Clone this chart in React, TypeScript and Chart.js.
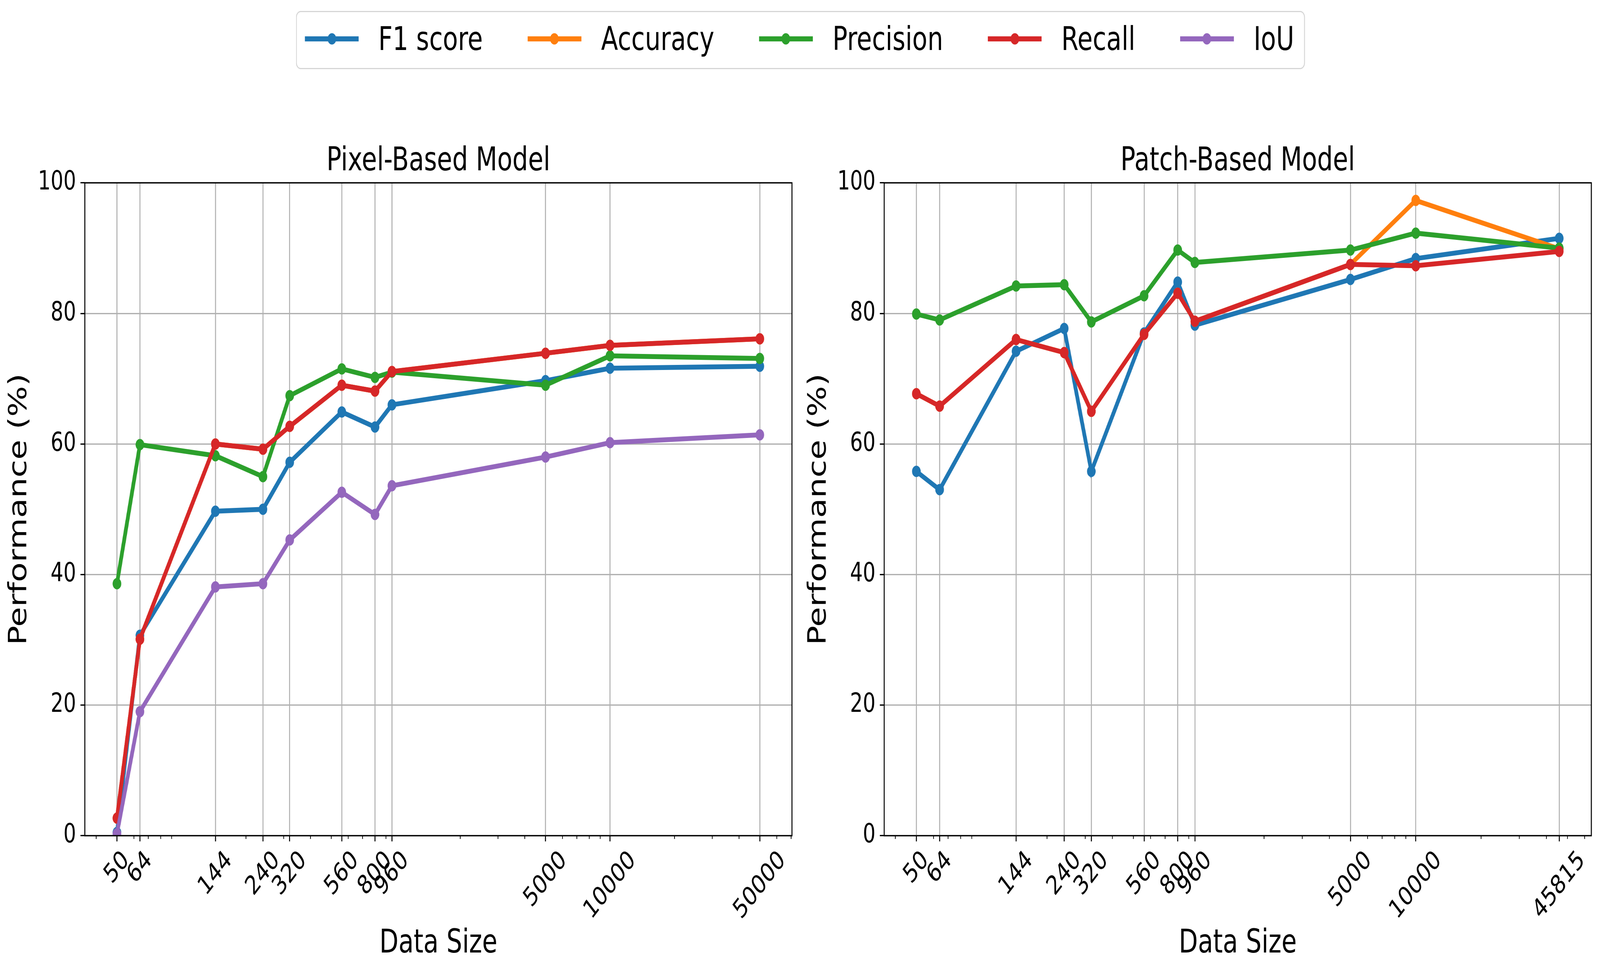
import React, { useEffect, useRef } from 'react';
import { Chart, registerables } from 'chart.js';

Chart.register(...registerables);

const FONT = 'DejaVu Sans';

// ---------------- data ----------------
const seriesNames = ['F1 score', 'Accuracy', 'Precision', 'Recall', 'IoU'];
const seriesColors = ['#1f77b4', '#ff7f0e', '#2ca02c', '#d62728', '#9467bd'];
const yTicks = [0, 20, 40, 60, 80, 100];

const pixelSizes = [50, 64, 144, 240, 320, 560, 800, 960, 5000, 10000, 50000];
const pixelF1 = [0.5, 30.7, 49.7, 50.0, 57.2, 64.9, 62.6, 66.0, 69.7, 71.6, 71.9];
const pixelAccuracy = [2.7, 30.1, 60.0, 59.2, 62.7, 69.0, 68.1, 71.1, 73.9, 75.1, 76.1];
const pixelPrecision = [38.6, 59.9, 58.2, 55.0, 67.4, 71.5, 70.2, 71.0, 69.0, 73.5, 73.1];
const pixelRecall = [2.7, 30.1, 60.0, 59.2, 62.7, 69.0, 68.1, 71.1, 73.9, 75.1, 76.1];
const pixelIoU = [0.3, 19.0, 38.1, 38.6, 45.3, 52.6, 49.2, 53.6, 58.0, 60.2, 61.4];

const patchSizes = [50, 64, 144, 240, 320, 560, 800, 960, 5000, 10000, 45815];
const patchF1 = [55.8, 53.0, 74.2, 77.7, 55.8, 77.0, 84.8, 78.2, 85.2, 88.4, 91.5];
const patchAccuracy = [67.7, 65.8, 76.0, 74.0, 65.0, 76.8, 83.1, 78.8, 87.5, 97.3, 89.9];
const patchPrecision = [79.9, 79.0, 84.2, 84.4, 78.7, 82.7, 89.7, 87.8, 89.7, 92.3, 90.0];
const patchRecall = [67.7, 65.8, 76.0, 74.0, 65.0, 76.8, 83.1, 78.8, 87.5, 87.3, 89.5];
const patchIoU: (number | null)[] = [null, null, null, null, null, null, null, null, null, null, null];

// ---------------- layout constants ----------------
const PAGE_W = 5358;
const PAGE_H = 2493;
const CANVAS_W = 2679;
const CANVAS_H = 2493;
const TICK_FONT = 67;
const LABEL_FONT = 83;
const TICK_LEN = 14.6;
const TICK_PAD = 14.6;
const LINE_W = 3.33;
const GRID_COLOR = '#b0b0b0';

function makeDecorPlugin(sizes: number[]) {
  return {
    id: 'decor' + sizes.join('_'),
    afterDraw(chart: any) {
      const { ctx, chartArea } = chart;
      const xs = chart.scales.x;
      ctx.save();
      // minor ticks (log scale)
      ctx.strokeStyle = '#000';
      ctx.lineWidth = 2.5;
      const lo = Math.floor(Math.log10(xs.min));
      const hi = Math.ceil(Math.log10(xs.max));
      for (let e = lo; e <= hi; e++) {
        for (let k = 2; k <= 9; k++) {
          const v = k * Math.pow(10, e);
          if (v < xs.min || v > xs.max || sizes.indexOf(v) >= 0) continue;
          const px = xs.getPixelForValue(v);
          ctx.beginPath();
          ctx.moveTo(px, chartArea.bottom);
          ctx.lineTo(px, chartArea.bottom + 8.3);
          ctx.stroke();
        }
      }
      // frame (spines)
      ctx.lineWidth = LINE_W;
      ctx.strokeStyle = '#000';
      ctx.strokeRect(chartArea.left, chartArea.top, chartArea.right - chartArea.left, chartArea.bottom - chartArea.top);
      // rotated x tick labels, centered on tick
      ctx.fillStyle = '#000';
      ctx.font = `${TICK_FONT}px "${FONT}"`;
      ctx.textAlign = 'left';
      ctx.textBaseline = 'alphabetic';
      const top = chartArea.bottom + TICK_LEN + TICK_PAD;
      const h = 0.968 * TICK_FONT;
      for (const t of xs.ticks) {
        const label = String(t.value);
        const w = ctx.measureText(label).width;
        const px = xs.getPixelForValue(t.value);
        const cy = top + ((w + h) * Math.SQRT1_2) / 2;
        ctx.save();
        ctx.translate(px, cy);
        ctx.rotate(-Math.PI / 4);
        ctx.fillText(label, -w / 2, 0.276 * TICK_FONT);
        ctx.restore();
      }
      ctx.restore();
    },
  };
}

type PanelProps = {
  title: string;
  sizes: number[];
  values: (number | null)[][];
  left: number;
};

function Panel({ title, sizes, values, left }: PanelProps) {
  const ref = useRef<HTMLCanvasElement>(null);
  useEffect(() => {
    const lmin = Math.log10(Math.min(...sizes));
    const lmax = Math.log10(Math.max(...sizes));
    const m = (lmax - lmin) * 0.05;
    const xmin = Math.pow(10, lmin - m);
    const xmax = Math.pow(10, lmax + m);

    const datasets = seriesNames.map((name, si) => ({
      label: name,
      data: sizes.map((x, i) => ({ x, y: values[si][i] })),
      borderColor: seriesColors[si],
      backgroundColor: seriesColors[si],
      borderWidth: 12.5,
      pointRadius: 12.5,
      pointBorderWidth: 4,
      pointHoverRadius: 12.5,
      pointBorderColor: seriesColors[si],
      pointBackgroundColor: seriesColors[si],
      tension: 0,
      fill: false,
      clip: 0,
      order: seriesNames.length - si,
      xAxisID: 'x',
      yAxisID: 'y',
    }));

    const chart = new Chart(ref.current as HTMLCanvasElement, {
      type: 'line',
      data: { datasets } as any,
      options: {
        animation: false,
        responsive: false,
        devicePixelRatio: 1,
        events: [],
        layout: { padding: { top: 372.5, left: 24.5, right: 27, bottom: 35.5 } },
        plugins: {
          legend: { display: false },
          tooltip: { enabled: false },
          title: { display: false },
        },
        scales: {
          x: {
            type: 'logarithmic',
            position: 'bottom',
            min: xmin,
            max: xmax,
            bounds: 'data',
            afterBuildTicks: (s: any) => {
              s.ticks = sizes.map((v) => ({ value: v }));
            },
            ticks: { display: false },
            grid: {
              color: GRID_COLOR,
              lineWidth: LINE_W,
              drawTicks: true,
              tickLength: TICK_LEN,
              tickColor: '#000',
              tickWidth: LINE_W,
            },
            border: { display: false },
            title: {
              display: true,
              text: 'Data Size',
              color: '#000',
              font: { family: FONT, size: LABEL_FONT, lineHeight: 1 },
              padding: 0,
            },
            afterFit: (s: any) => {
              s.height = 318.5;
            },
          },
          x2: {
            type: 'linear',
            position: 'top',
            display: true,
            grid: { display: false },
            border: { display: false },
            ticks: { display: false },
            title: {
              display: true,
              text: title,
              color: '#000',
              font: { family: FONT, size: LABEL_FONT, lineHeight: 1 },
              padding: 0,
            },
            afterFit: (s: any) => {
              s.height = 95.5;
            },
          },
          y: {
            type: 'linear',
            position: 'left',
            min: yTicks[0],
            max: yTicks[yTicks.length - 1],
            afterBuildTicks: (s: any) => {
              s.ticks = yTicks.map((v) => ({ value: v }));
            },
            ticks: {
              color: '#000',
              font: { family: FONT, size: TICK_FONT },
              padding: TICK_PAD,
            },
            grid: {
              color: GRID_COLOR,
              lineWidth: LINE_W,
              drawTicks: true,
              tickLength: TICK_LEN,
              tickColor: '#000',
              tickWidth: LINE_W,
            },
            border: { display: false },
            title: {
              display: true,
              text: 'Performance (%)',
              color: '#000',
              font: { family: FONT, size: LABEL_FONT, lineHeight: 1 },
              padding: 0,
            },
            afterFit: (s: any) => {
              s.width = 259.5;
            },
          },
        },
      } as any,
      plugins: [makeDecorPlugin(sizes)],
    });
    return () => chart.destroy();
  }, []);
  return (
    <canvas
      ref={ref}
      width={CANVAS_W}
      height={CANVAS_H}
      style={{ position: 'absolute', left, top: 0, width: CANVAS_W, height: CANVAS_H }}
    />
  );
}

function Legend() {
  return (
    <div
      style={{
        position: 'absolute',
        top: 28,
        left: 991,
        height: 149,
        boxSizing: 'border-box',
        border: '3px solid #d6d6d6',
        borderRadius: 16,
        background: '#fff',
        display: 'flex',
        alignItems: 'center',
        padding: '0 33px 6px 27px',
        gap: 150,
        fontFamily: FONT,
        fontSize: LABEL_FONT,
        whiteSpace: 'nowrap',
        color: '#000',
      }}
    >
      {seriesNames.map((n, i) => (
        <div key={n} style={{ display: 'flex', alignItems: 'center' }}>
          <div style={{ position: 'relative', width: 180, height: 30, marginRight: 66 }}>
            <div
              style={{
                position: 'absolute',
                left: 0,
                top: 8.75,
                width: 180,
                height: 12.5,
                background: seriesColors[i],
              }}
            />
            <div
              style={{
                position: 'absolute',
                left: 75.5,
                top: 0.5,
                width: 29,
                height: 29,
                borderRadius: '50%',
                background: seriesColors[i],
              }}
            />
          </div>
          <span style={{ lineHeight: 1 }}>{n}</span>
        </div>
      ))}
    </div>
  );
}

export default function App() {
  // The browser viewport may be narrower than the requested figure size;
  // fit the full figure into the viewport.
  const vw = typeof window !== 'undefined' ? window.innerWidth || PAGE_W : PAGE_W;
  const vh = typeof window !== 'undefined' ? window.innerHeight || PAGE_H : PAGE_H;
  const sx = Math.min(1, vw / PAGE_W);
  const sy = Math.min(1, vh / PAGE_H);
  return (
    <div
      style={{
        position: 'fixed',
        left: 0,
        top: 0,
        width: '100vw',
        height: '100vh',
        overflow: 'hidden',
        background: '#fff',
      }}
    >
      <div
        style={{
          position: 'absolute',
          left: 0,
          top: 0,
          width: PAGE_W,
          height: PAGE_H,
          background: '#fff',
          transform: `scale(${sx}, ${sy})`,
          transformOrigin: '0 0',
        }}
      >
        <Panel
          title="Pixel-Based Model"
          sizes={pixelSizes}
          values={[pixelF1, pixelAccuracy, pixelPrecision, pixelRecall, pixelIoU]}
          left={0}
        />
        <Panel
          title="Patch-Based Model"
          sizes={patchSizes}
          values={[patchF1, patchAccuracy, patchPrecision, patchRecall, patchIoU]}
          left={2677}
        />
        <Legend />
      </div>
    </div>
  );
}
